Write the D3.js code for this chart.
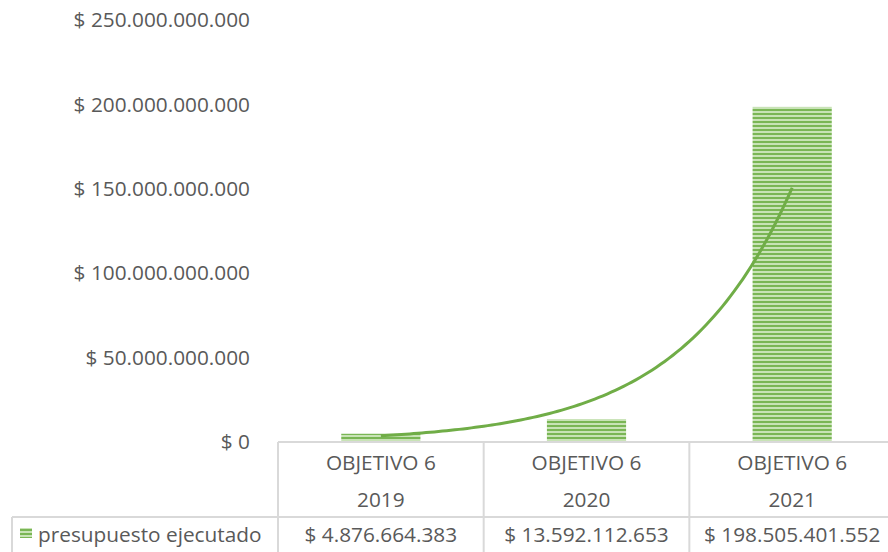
<!DOCTYPE html>
<html>
<head>
<meta charset="utf-8">
<script src="https://cdn.jsdelivr.net/npm/d3@7"></script>
<style>
  body { margin: 0; background: #fff; }
  text { font-family: "Open Sans", sans-serif; fill: #595959; }
</style>
</head>
<body>
<svg></svg>
<script>
'use strict';

var categories = ['OBJETIVO 6', 'OBJETIVO 6', 'OBJETIVO 6'];
var years = ['2019', '2020', '2021'];
var values = [4876664383, 13592112653, 198505401552];
var yTicks = [0, 50e9, 100e9, 150e9, 200e9, 250e9];
var seriesName = 'presupuesto ejecutado';

var SVG_SIZE = {width: 888, height: 552};
var MARGIN = {left: 278, top: 20, right: -7, bottom: 110};
var width = SVG_SIZE.width - MARGIN.left - MARGIN.right;
var height = SVG_SIZE.height - MARGIN.top - MARGIN.bottom;
var FS = '20.8px';

var svg = d3.select('svg').attr('width', SVG_SIZE.width).attr('height', SVG_SIZE.height);

// striped fill like the excel pattern
var pat = svg.append('defs').append('pattern')
  .attr('id', 'stripes').attr('patternUnits', 'userSpaceOnUse')
  .attr('width', 8).attr('height', 4);
pat.append('rect').attr('width', 8).attr('height', 4).attr('fill', '#c8e3b6');
pat.append('rect').attr('y', 1).attr('width', 8).attr('height', 2).attr('fill', '#7ab655');

var fmt = d3.formatLocale({decimal: ',', thousands: '.', grouping: [3], currency: ['$ ', '']});
var money = fmt.format('$,.0f');

var idx = d3.range(values.length);
var x = d3.scaleBand().domain(idx).range([0, width]).paddingInner(0).paddingOuter(0);
var y = d3.scaleLinear().domain([0, 250e9]).range([height, 0]);

var g = svg.append('g').attr('transform', 'translate(' + MARGIN.left + ',' + MARGIN.top + ')');

// y axis labels
var yAxis = d3.axisLeft(y).tickValues(yTicks).tickSize(0).tickPadding(28)
  .tickFormat(function(d){ return d === 0 ? '$ 0' : money(d); });
var ya = g.append('g').call(yAxis);
ya.select('.domain').remove();
ya.selectAll('text').style('font-size', FS).style('font-family', '"Open Sans", sans-serif').attr('fill', '#595959');

// bars
var bw = x.bandwidth() * 0.385;
g.selectAll('rect.bar').data(values).enter().append('rect')
  .attr('class', 'bar')
  .attr('x', function(d, i){ return x(i) + (x.bandwidth() - bw) / 2; })
  .attr('y', function(d){ return y(d); })
  .attr('width', bw)
  .attr('height', function(d){ return height - y(d); })
  .attr('fill', 'url(#stripes)');

// exponential trendline (least squares on ln values)
var xs = idx.map(function(i){ return i + 1; });
var ls = values.map(function(v){ return Math.log(v); });
var mx = d3.mean(xs), ml = d3.mean(ls);
var b = d3.sum(xs, function(v, i){ return (v - mx) * (ls[i] - ml); }) / d3.sum(xs, function(v){ return (v - mx) * (v - mx); });
var a = ml - b * mx;
var tx = d3.scaleLinear().domain([1, 3]).range([x(0) + x.bandwidth() / 2, x(2) + x.bandwidth() / 2]);
var trend = d3.range(1, 3.001, 0.02).map(function(t){ return [tx(t), y(Math.exp(a + b * t))]; });
g.append('path').datum(trend)
  .attr('d', d3.line())
  .attr('fill', 'none').attr('stroke', '#70ad47').attr('stroke-width', 3);

// data table below the axis
var lineCol = '#d9d9d9';
var row1 = height, row2 = height + 75, rowEnd = height + 120;
g.append('line').attr('x1', 0).attr('x2', width).attr('y1', row1).attr('y2', row1).attr('stroke', lineCol).attr('stroke-width', 2);
g.append('line').attr('x1', 12 - MARGIN.left).attr('x2', width).attr('y1', row2).attr('y2', row2).attr('stroke', lineCol).attr('stroke-width', 2);
g.append('line').attr('x1', 12 - MARGIN.left).attr('x2', 12 - MARGIN.left).attr('y1', row2).attr('y2', rowEnd).attr('stroke', lineCol).attr('stroke-width', 2);
g.selectAll('line.sep').data(d3.range(values.length + 1)).enter().append('line')
  .attr('class', 'sep')
  .attr('x1', function(i){ return i < values.length ? x(i) : width; })
  .attr('x2', function(i){ return i < values.length ? x(i) : width; })
  .attr('y1', row1).attr('y2', rowEnd)
  .attr('stroke', lineCol).attr('stroke-width', 2);

var cells = g.selectAll('g.cell').data(values).enter().append('g')
  .attr('class', 'cell')
  .attr('transform', function(d, i){ return 'translate(' + (x(i) + x.bandwidth() / 2) + ',0)'; });
cells.append('text').attr('y', row1 + 28).attr('text-anchor', 'middle').style('font-size', FS)
  .text(function(d, i){ return categories[i]; });
cells.append('text').attr('y', row1 + 65).attr('text-anchor', 'middle').style('font-size', FS)
  .text(function(d, i){ return years[i]; });
cells.append('text').attr('y', row2 + 25).attr('text-anchor', 'middle').style('font-size', FS)
  .text(function(d){ return money(d); });

// legend key in table
g.append('rect').attr('x', 20 - MARGIN.left).attr('y', row2 + 11).attr('width', 12).attr('height', 10).attr('fill', 'url(#stripes)');
g.append('text').attr('x', 38 - MARGIN.left).attr('y', row2 + 25).style('font-size', FS).text(seriesName);
</script>
</body>
</html>
